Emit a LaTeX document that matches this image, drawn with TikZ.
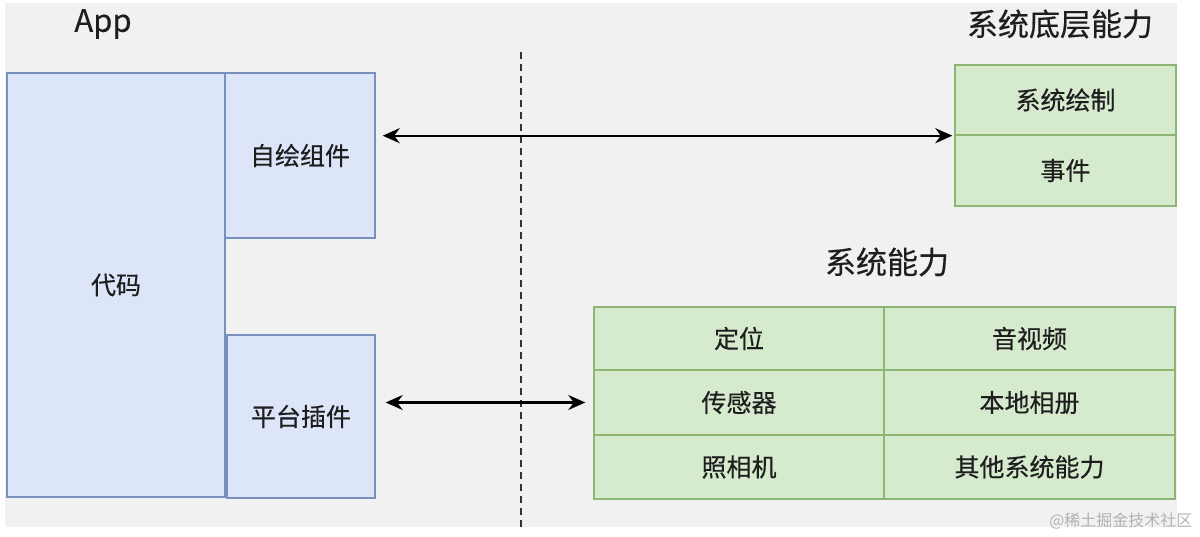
\documentclass[tikz,border=0pt]{standalone}
\usepackage{fontspec}
\setmainfont{Noto Sans CJK SC}[FakeBold=0.4]
\newfontfamily\markfont{Noto Sans CJK SC}
\usetikzlibrary{arrows.meta}
\definecolor{bggray}{HTML}{F1F1F1}
\definecolor{appfill}{HTML}{DCE6F8}
\definecolor{appline}{HTML}{7890BC}
\definecolor{sysfill}{HTML}{D6EACD}
\definecolor{sysline}{HTML}{8DB573}
\definecolor{txt}{HTML}{1E1E1E}
\begin{document}
\begin{tikzpicture}[x=1pt,y=-1pt,
        appbox/.style={draw=appline,fill=appfill,line width=1.4pt,inner sep=0pt,
            text=txt,font=\fontsize{25}{28}\selectfont},
        sysbox/.style={draw=sysline,fill=sysfill,line width=1.4pt,inner sep=0pt,
            text=txt,font=\fontsize{25}{28}\selectfont},
        title/.style={text=txt,font=\fontsize{31}{34}\selectfont},
        link/.style={{Stealth[length=17pt,width=15pt]}-{Stealth[length=17pt,width=15pt]},line width=2.3pt,black}]
        \useasboundingbox (0,0) rectangle (1200,537);
        \fill[bggray] (5,3) rectangle (1177,527);
        % App side
        \node[title] (apptitle) at (103,24) {App};
        \node[appbox,minimum width=218pt,minimum height=424pt] (code) at (116,285) {代码};
        \node[appbox,minimum width=150pt,minimum height=165pt] (selfdraw) at (300,155.5) {自绘组件};
        \node[appbox,minimum width=148pt,minimum height=163pt] (plugin) at (301,416.5) {平台插件};
        % divider
        \draw[dashed,line width=1.4pt,dash pattern=on 7pt off 5pt,black!80] (521,52) -- (521,527);
        % system low level
        \node[title] (lowtitle) at (1060,24) {系统底层能力};
        \node[sysbox,minimum width=221pt,minimum height=70pt] (render) at (1065.5,100) {系统绘制};
        \node[sysbox,minimum width=221pt,minimum height=71pt] (event) at (1065.5,170.5) {事件};
        % system abilities
        \node[title] (systitle) at (887,262) {系统能力};
        \node[sysbox,minimum width=290pt,minimum height=63pt] (locate) at (739,338.5) {定位};
        \node[sysbox,minimum width=291pt,minimum height=63pt] (media) at (1029.5,338.5) {音视频};
        \node[sysbox,minimum width=290pt,minimum height=65pt] (sensor) at (739,402.5) {传感器};
        \node[sysbox,minimum width=291pt,minimum height=65pt] (album) at (1029.5,402.5) {本地相册};
        \node[sysbox,minimum width=290pt,minimum height=64pt] (camera) at (739,467) {照相机};
        \node[sysbox,minimum width=291pt,minimum height=64pt] (others) at (1029.5,467) {其他系统能力};
        % links
        \draw[link,shorten <=7pt,shorten >=2pt] (selfdraw.east |- render.south) -- (render.south west);
        \draw[link,shorten <=10pt,shorten >=8pt] (plugin.east |- sensor.west) -- (sensor.west);
        % watermark
        \node[anchor=east,text=black!30,font=\markfont\fontsize{16}{18}\selectfont] (mark) at (1196,521) {@稀土掘金技术社区};
    \end{tikzpicture}
\end{document}
